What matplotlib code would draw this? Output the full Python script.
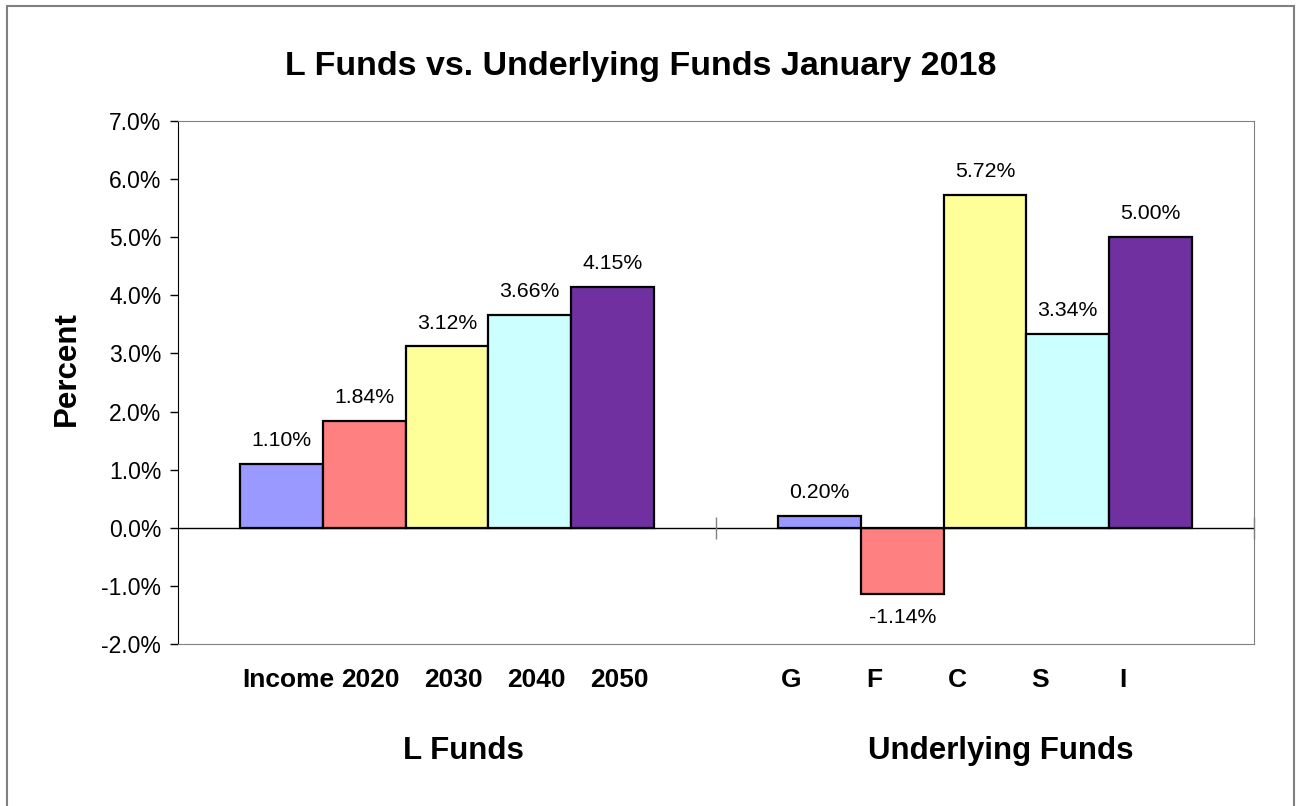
import matplotlib
matplotlib.use("Agg")
import matplotlib.pyplot as plt
from matplotlib.patches import Rectangle
import numpy as np

plt.rcParams['font.family'] = ['Liberation Sans', 'DejaVu Sans']

groups = ["L Funds", "Underlying Funds"]
fund_names = [["Income", "2020", "2030", "2040", "2050"],
              ["G", "F", "C", "S", "I"]]
l_funds = [1.10, 1.84, 3.12, 3.66, 4.15]
underlying = [0.20, -1.14, 5.72, 3.34, 5.00]
colors = ["#9999FF", "#FF8080", "#FFFF99", "#CCFFFF", "#7030A0"]

values = np.array([l_funds, underlying])
n = values.shape[1]
width = 1.0 / (n + 1.5)

fig = plt.figure(figsize=(12.96, 8.06), dpi=100)
ax = fig.add_axes([0.1373, 0.201, 0.8303, 0.6489])

x = np.arange(len(groups))
for j in range(n):
    pos = x + (j - (n - 1) / 2) * width
    ax.bar(pos, values[:, j], width=width, color=colors[j],
           edgecolor="black", linewidth=1.6, zorder=3)
    for xi, v in zip(pos, values[:, j]):
        ax.annotate("%.2f%%" % v, (xi, v), xytext=(0, 10 if v >= 0 else -10),
                    textcoords="offset points", ha="center",
                    va="bottom" if v >= 0 else "top", fontsize=15.3)

ax.set_xlim(-0.5, 1.5)
ax.set_ylim(-2, 7)
ax.set_yticks(np.arange(-2, 8, 1))
ax.set_yticklabels(["%.1f%%" % t for t in np.arange(-2, 8, 1)], fontsize=16.5)
ax.tick_params(axis="y", direction="out", length=6, width=1, pad=6)
ax.set_xticks([])
ax.axhline(0, color="black", lw=1, zorder=4)
ax.plot([0.5, 1.5], [0, 0], ls="none", marker="|", ms=16, mew=1,
        color="#808080", clip_on=False, zorder=4)

for s in ["top", "right", "bottom"]:
    ax.spines[s].set_color("#808080")
ax.spines["left"].set_color("black")

ax.set_ylabel("Percent", fontsize=22.5, fontweight="bold", va="center")
ax.yaxis.set_label_coords(-0.103, 0.526)

# fund names under each bar
name_shift = [0.012, -0.052]
for i, names in enumerate(fund_names):
    for j, name in enumerate(names):
        xc = i + (j - (n - 1) / 2) * width + name_shift[i]
        ax.text(xc, -0.069, name, transform=ax.get_xaxis_transform(),
                ha="center", va="center", fontsize=19, fontweight="bold")

for i, g in enumerate(groups):
    ax.text(i + 0.03, -0.204, g, transform=ax.get_xaxis_transform(),
            ha="center", va="center", fontsize=22.5, fontweight="bold")

fig.text(0.494, 0.917, "L Funds vs. Underlying Funds January 2018",
         ha="center", va="center", fontsize=24.5, fontweight="bold")

fig.patches.append(Rectangle((0.0054, -0.02), 0.9931, 1.0126,
                             transform=fig.transFigure, fill=False,
                             edgecolor="#808080", lw=1.5))

fig.savefig("out.png", dpi=100)
